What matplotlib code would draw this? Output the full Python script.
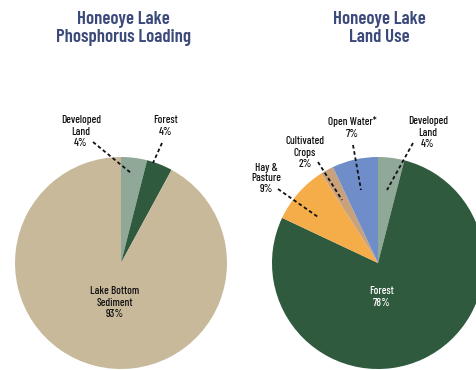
import matplotlib.pyplot as plt
from matplotlib import font_manager

# Honeoye Lake: phosphorus sources and watershed land use
loading_labels = ['Developed\nLand', 'Forest', 'Lake Bottom\nSediment']
loading_pct = [4, 4, 93]
loading_colors = ['#8fa898', '#2f5a3e', '#c9b99b']

landuse_labels = ['Developed\nLand', 'Forest', 'Hay &\nPasture', 'Cultivated\nCrops', 'Open Water*']
landuse_pct = [4, 78, 9, 2, 7]
landuse_colors = ['#8fa898', '#2f5a3e', '#f5ad4a', '#c9a27c', '#6f8dc9']

names = {f.name for f in font_manager.fontManager.ttflist}
cond = 'Barlow Condensed' if 'Barlow Condensed' in names else 'DejaVu Sans'
plt.rcParams['font.family'] = [cond, 'DejaVu Sans']

W, H = 476, 370
fig = plt.figure(figsize=(W / 100, H / 100), dpi=100)
ax = fig.add_axes([0, 0, 1, 1])

title_color = '#3c4a7b'
ax.text(123, 359, 'Honeoye Lake\nPhosphorus Loading', ha='center', va='top',
        fontsize=13.5, fontweight=600, color=title_color, linespacing=1.08)
ax.text(379, 359, 'Honeoye Lake\nLand Use', ha='center', va='top',
        fontsize=13.5, fontweight=600, color=title_color, linespacing=1.08)

r = 106
left_c = (121, H - 263)
right_c = (378, H - 263)
ax.pie(loading_pct, colors=loading_colors, startangle=90, counterclock=False,
       center=left_c, radius=r, frame=True, wedgeprops=dict(linewidth=0))
ax.pie(landuse_pct, colors=landuse_colors, startangle=90, counterclock=False,
       center=right_c, radius=r, frame=True, wedgeprops=dict(linewidth=0))
ax.set_xlim(0, W)
ax.set_ylim(0, H)
ax.set_aspect('equal')
ax.axis('off')


def label(x, y, name, pct, dash_from=None, dash_to=None, color='#111111', ls=1.2):
    ax.text(x, H - y, f'{name}\n{pct}%', ha='center', va='top', fontsize=8,
            fontweight=500, color=color, linespacing=ls)
    if dash_from is not None:
        ax.plot([dash_from[0], dash_to[0]], [H - dash_from[1], H - dash_to[1]],
                color='#111111', lw=1.3, ls=(0, (2, 1.5)))


# left pie labels
label(81, 115, loading_labels[0], loading_pct[0], (93, 142), (131, 173))
label(166, 115, loading_labels[1], loading_pct[1], (162, 143), (153, 163))
label(115, 286, loading_labels[2], loading_pct[2])

# right pie labels
label(428, 116, landuse_labels[0], landuse_pct[0], (413, 143), (387, 190))
label(382, 286, landuse_labels[1], landuse_pct[1], color='#ffffff')
label(266, 163, landuse_labels[2], landuse_pct[2], (278, 189), (318, 217), ls=1.05)
label(305, 136, landuse_labels[3], landuse_pct[3], (318, 162), (342, 200))
label(352, 116, landuse_labels[4], landuse_pct[4], (353, 145), (361, 190))

fig.savefig('out.png', dpi=100)
